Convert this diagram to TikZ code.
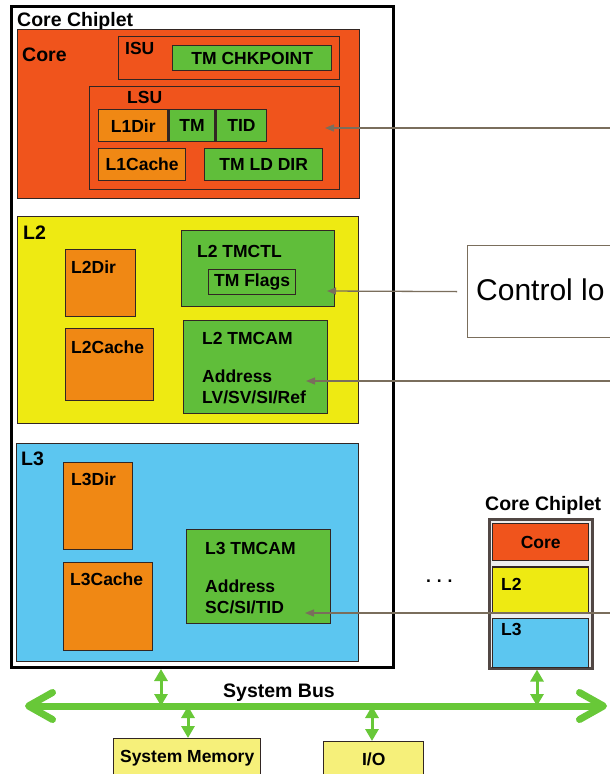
\documentclass[tikz,border=0pt]{standalone}
\usepackage{fontspec}
\setmainfont{Liberation Sans}
\usepackage{xcolor}
\usepackage{tikz}
\usetikzlibrary{arrows.meta, positioning}
\definecolor{edge}{RGB}{50,38,35}
\definecolor{corered}{RGB}{240,84,28}
\definecolor{ylw}{RGB}{238,234,18}
\definecolor{sky}{RGB}{92,198,240}
\definecolor{grn}{RGB}{96,190,58}
\definecolor{orng}{RGB}{240,136,20}
\definecolor{pale}{RGB}{246,240,122}
\definecolor{busgreen}{RGB}{104,200,56}
\definecolor{ptrgray}{RGB}{122,110,92}
\tikzstyle{ptr} = [-{Triangle[length=9pt,width=7pt]}, draw=ptrgray, line width=1.3pt]

\begin{document}
\begin{tikzpicture}[x=1pt, y=-1pt,
  blk/.style={draw=edge, line width=1.4pt, inner sep=0pt, anchor=north west,
              font=\fontsize{17.5pt}{19pt}\selectfont\bfseries},
  corebox/.style={blk, fill=corered},
  l2box/.style={blk, fill=ylw},
  l3box/.style={blk, fill=sky},
  tmbox/.style={blk, fill=grn},
  arrbox/.style={blk, fill=orng},
  iobox/.style={blk, fill=pale},
  unit/.style={blk, fill=none},
  lbl/.style={anchor=base west, inner sep=0pt,
              font=\fontsize{17.5pt}{19pt}\selectfont\bfseries},
  hdr/.style={lbl, font=\fontsize{19.5pt}{21pt}\selectfont\bfseries},
  tap/.style={{Triangle[length=12pt,width=13pt]}-{Triangle[length=12pt,width=13pt]},
              draw=busgreen, fill=busgreen, line width=3pt},
  bus/.style={{Straight Barb[length=24pt,width=27pt,round]}-{Straight Barb[length=24pt,width=27pt,round]},
              draw=busgreen, line width=7pt, line cap=round}
]
  \useasboundingbox[fill=white] (0,0) rectangle (610,774);

  % core chiplet
  \node[blk, draw=black, line width=3pt, fill=white, minimum width=382pt, minimum height=661pt] (chip) at (9.5,5) {};
  \node[hdr] (chiptxt) at (17,26) {Core Chiplet};

  \node[corebox, minimum width=342pt, minimum height=169pt] (core) at (17,29) {};
  \node[hdr] (coretxt) at (22,61) {Core};
  \node[unit, minimum width=221pt, minimum height=43pt] (isu) at (118,36) {};
  \node[lbl] (isutxt) at (125,54) {ISU};
  \node[tmbox, minimum width=159pt, minimum height=25pt] (chk) at (172,45) {TM CHKPOINT};
  \node[unit, minimum width=250pt, minimum height=103pt] (lsu) at (89,86) {};
  \node[lbl] (lsutxt) at (127,103.5) {LSU};
  \node[arrbox, minimum width=69pt, minimum height=32pt] (l1dir) at (98,109) {L1Dir};
  \node[tmbox, minimum width=46pt, minimum height=32pt, right=0pt of l1dir] (tm) {TM};
  \node[tmbox, minimum width=50pt, minimum height=32pt, right=0pt of tm] (tid) {TID};
  \node[arrbox, minimum width=87pt, minimum height=32pt] (l1cache) at (98,148) {L1Cache};
  \node[tmbox, minimum width=118pt, minimum height=32pt] (tmld) at (204,148) {TM LD DIR};

  % L2
  \node[l2box, minimum width=341pt, minimum height=207pt] (l2) at (17,216) {};
  \node[hdr] (l2txt) at (23,239) {L2};
  \node[arrbox, minimum width=70pt, minimum height=67pt] (l2dir) at (65,249) {};
  \node[lbl] (l2dirtxt) at (71,273) {L2Dir};
  \node[arrbox, minimum width=88pt, minimum height=72pt] (l2cache) at (65,328) {};
  \node[lbl] (l2cachetxt) at (71,353) {L2Cache};
  \node[tmbox, minimum width=153pt, minimum height=76pt] (l2ctl) at (181,230) {};
  \node[lbl] (l2ctltxt) at (197,257) {L2 TMCTL};
  \node[unit, line width=1.2pt, minimum width=87pt, minimum height=25pt] (flags) at (208,269) {TM Flags};
  \node[tmbox, minimum width=144pt, minimum height=93pt] (l2cam) at (183,320) {};
  \node[lbl] (l2camtxt) at (202,344) {L2 TMCAM};
  \node[lbl] (l2adr) at (202,382) {Address};
  \node[lbl] (l2bits) at (202,403) {LV/SV/SI/Ref};

  % L3
  \node[l3box, minimum width=342pt, minimum height=218pt] (l3) at (16,443) {};
  \node[hdr] (l3txt) at (21,465.5) {L3};
  \node[arrbox, minimum width=69pt, minimum height=87pt] (l3dir) at (63,462) {};
  \node[lbl] (l3dirtxt) at (71,485.5) {L3Dir};
  \node[arrbox, minimum width=89pt, minimum height=88pt] (l3cache) at (63,562) {};
  \node[lbl] (l3cachetxt) at (70,585) {L3Cache};
  \node[tmbox, minimum width=144pt, minimum height=94pt] (l3cam) at (186,529) {};
  \node[lbl] (l3camtxt) at (205,554) {L3 TMCAM};
  \node[lbl] (l3adr) at (205,592) {Address};
  \node[lbl] (l3bits) at (205,613) {SC/SI/TID};

  % other chiplets
  \node[lbl] (dots) at (426,582) {.\,\,.\,\,.};
  \node[hdr] (schiptxt) at (485,510) {Core Chiplet};
  \node[blk, draw=edge!85, line width=2.6pt, fill=black!7, minimum width=103pt, minimum height=149pt] (schip) at (488,518) {};
  \node[corebox, minimum width=96pt, minimum height=37pt] (score) at (492,523) {Core};
  \node[l2box, minimum width=96pt, minimum height=46pt, below=5pt of score] (sl2) {};
  \node[l3box, minimum width=96pt, minimum height=49pt, below=4pt of sl2] (sl3) {};
  \node[lbl] (sl2txt) at (501,590) {L2};
  \node[lbl] (sl3txt) at (501,635) {L3};

  % control logic
  \node[blk, draw=ptrgray, line width=1.2pt, fill=white, minimum width=190pt, minimum height=92pt] (ctl) at (467,245) {};
  \node[anchor=base west, inner sep=0pt, font=\fontsize{30pt}{32pt}\selectfont] (ctltxt) at (476,300.5) {Control lo};

  \coordinate (eA) at (615,128);
  \coordinate (tA) at (325,128);
  \coordinate (tB) at (327,291);
  \coordinate (eC) at (615,381);
  \coordinate (tC) at (306,381);
  \coordinate (eD) at (615,613);
  \coordinate (tD) at (305,613);
  \draw[ptr] (eA) -- (tA);
  \draw[ptr] ([xshift=-10pt]ctl.west) -- (tB);
  \draw[ptr] (eC) -- (tC);
  \draw[ptr] (eD) -- (tD);

  % system bus
  \coordinate (busL) at (25,706);
  \coordinate (busR) at (607,706);
  \coordinate (b1) at (161,706);
  \coordinate (b2) at (188,706);
  \coordinate (b3) at (372,706);
  \coordinate (b4) at (537,706);
  \node[iobox, minimum width=147pt, minimum height=38pt] (mem) at (113,738) {System Memory};
  \node[iobox, minimum width=100pt, minimum height=35pt] (io) at (323,741) {I/O};
  \draw[tap] (chip.south -| b1) -- (b1);
  \draw[tap] (b2) -- (mem.north -| b2);
  \draw[tap] (b3) -- (io.north -| b3);
  \draw[tap] (schip.south -| b4) -- (b4);
  \draw[bus] (busL) -- (busR);
  \node[hdr] (bustxt) at (223,697) {System Bus};
\end{tikzpicture}
\end{document}
